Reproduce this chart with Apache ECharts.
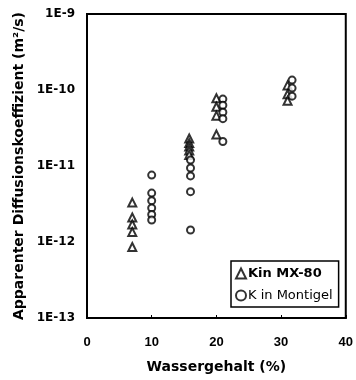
<!DOCTYPE html>
<html>
<head>
<meta charset="utf-8">
<script src="https://cdn.jsdelivr.net/npm/echarts@6/dist/echarts.min.js"></script>
<style>
  html, body { margin: 0; padding: 0; background: #fff; }
</style>
</head>
<body>
<!-- chart container, same size as the reference -->
<div id="main" style="width: 356px;height:380px;"></div>
<script>
// K in MX-80 (triangles)
var mx80X = [7, 7, 7, 7, 7, 15.8, 15.8, 15.8, 15.8, 15.8, 20, 20, 20, 20, 31, 31, 31];
var mx80Y = [3.3e-12, 2.1e-12, 1.7e-12, 1.35e-12, 8.6e-13,
  2.3e-11, 2.0e-11, 1.8e-11, 1.6e-11, 1.4e-11,
  7.8e-11, 6.0e-11, 4.6e-11, 2.6e-11,
  1.15e-10, 8.8e-11, 7.2e-11];

// K in Montigel (circles)
var montX = [10, 10, 10, 10, 10, 10, 16, 16, 16, 16, 16, 21, 21, 21, 21, 21, 31.7, 31.7, 31.7];
var montY = [7.6e-12, 4.4e-12, 3.5e-12, 2.8e-12, 2.3e-12, 1.95e-12,
  1.2e-11, 9.4e-12, 7.4e-12, 4.6e-12, 1.44e-12,
  7.6e-11, 6.3e-11, 5.1e-11, 4.2e-11, 2.1e-11,
  1.35e-10, 1.06e-10, 8.3e-11];

var xTicks = [0, 10, 20, 30, 40];
var seriesNames = ['Kin MX-80', 'K in Montigel'];

function pairs(xs, ys) {
  return xs.map(function (x, i) { return [x, ys[i]]; });
}

var chart = echarts.init(document.getElementById('main'));
chart.setOption({
  animation: false,
  backgroundColor: '#fff',
  grid: {
    left: 87, right: 6, top: 14, bottom: 62,
    show: true,
    borderColor: '#000',
    borderWidth: 2
  },
  legend: {
    orient: 'vertical',
    left: 231,
    top: 261,
    padding: [6, 6, 5, 4],
    itemGap: 9,
    itemWidth: 10,
    itemHeight: 10,
    borderColor: '#000',
    borderWidth: 1.5,
    data: seriesNames,
    formatter: function (name) {
      return name === seriesNames[0] ? '{b|' + name + '}' : '{n|' + name + '}';
    },
    textStyle: {
      padding: [0, 0, 0, -3],
      rich: {
        b: { fontFamily: 'DejaVu Sans', fontWeight: 'bold', fontSize: 13, color: '#000' },
        n: { fontFamily: 'DejaVu Sans', fontSize: 13, color: '#000' }
      }
    }
  },
  xAxis: {
    type: 'value',
    min: 0,
    max: 40,
    interval: 10,
    name: 'Wassergehalt (%)',
    nameLocation: 'middle',
    nameGap: 42,
    nameTextStyle: { fontFamily: 'DejaVu Sans', fontWeight: 'bold', fontSize: 14, color: '#000' },
    axisLine: { lineStyle: { color: '#000', width: 2 } },
    axisTick: { inside: true, length: 3, lineStyle: { color: '#000' } },
    axisLabel: {
      margin: 18,
      fontFamily: 'Liberation Sans',
      fontWeight: 'bold',
      fontSize: 13,
      color: '#000',
      formatter: function (v) { return xTicks.indexOf(v) >= 0 ? String(v) : ''; }
    },
    splitLine: { show: false }
  },
  yAxis: {
    type: 'log',
    logBase: 10,
    min: 1e-13,
    max: 1e-9,
    name: 'Apparenter Diffusionskoeffizient (m²/s)',
    nameLocation: 'middle',
    nameGap: 58,
    nameTextStyle: { fontFamily: 'DejaVu Sans', fontWeight: 'bold', fontSize: 14, color: '#000' },
    axisLine: { show: true, lineStyle: { color: '#000', width: 2 } },
    axisTick: { show: false },
    axisLabel: {
      margin: 12,
      fontFamily: 'DejaVu Sans',
      fontWeight: 'bold',
      fontSize: 12,
      color: '#000',
      formatter: function (v) { return '1E' + Math.round(Math.log10(v)); }
    },
    splitLine: { show: false }
  },
  series: [
    {
      name: seriesNames[0],
      type: 'scatter',
      symbol: 'triangle',
      symbolSize: 8,
      itemStyle: { color: '#fff', borderColor: '#000', borderWidth: 2 },
      data: pairs(mx80X, mx80Y)
    },
    {
      name: seriesNames[1],
      type: 'scatter',
      symbol: 'circle',
      symbolSize: 7,
      itemStyle: { color: '#fff', borderColor: '#000', borderWidth: 2 },
      data: pairs(montX, montY)
    }
  ]
});
</script>
</body>
</html>
